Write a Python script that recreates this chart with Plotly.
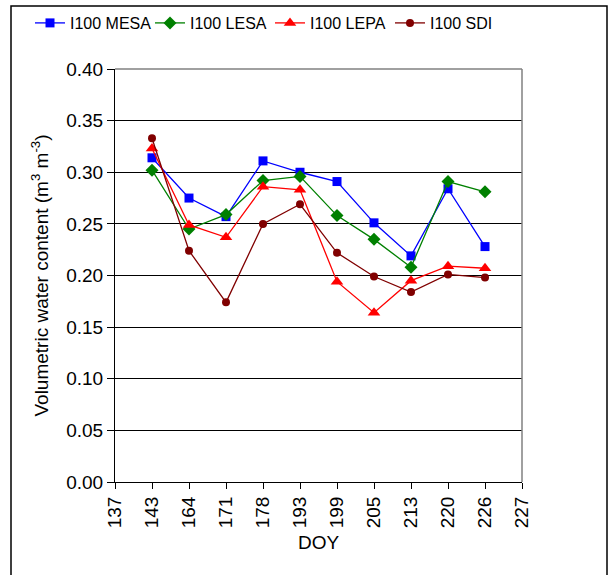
import plotly.graph_objects as go

doy_ticks = ["137", "143", "164", "171", "178", "193", "199", "205", "213", "220", "226", "227"]
doy = ["143", "164", "171", "178", "193", "199", "205", "213", "220", "226"]

mesa = [0.314, 0.275, 0.257, 0.311, 0.300, 0.291, 0.251, 0.219, 0.284, 0.228]
lesa = [0.302, 0.245, 0.259, 0.292, 0.296, 0.258, 0.235, 0.208, 0.291, 0.281]
lepa = [0.323, 0.249, 0.237, 0.286, 0.283, 0.194, 0.164, 0.195, 0.209, 0.207]
sdi = [0.333, 0.224, 0.174, 0.250, 0.269, 0.222, 0.199, 0.184, 0.201, 0.198]

series = [
    ("I100 MESA", mesa, "#0000FF", "square", 9),
    ("I100 LESA", lesa, "#008000", "diamond", 10),
    ("I100 LEPA", lepa, "#FF0000", "triangle-up", 11),
    ("I100 SDI", sdi, "#800000", "circle", 8),
]

fig = go.Figure()
for name, vals, col, sym, sz in series:
    fig.add_trace(go.Scatter(
        x=doy, y=vals, name=name, mode="lines+markers",
        line=dict(color=col, width=1.3),
        marker=dict(symbol=sym, size=sz, color=col),
    ))

font_family = "Liberation Sans, Arial, sans-serif"

fig.update_layout(
    width=611, height=575,
    margin=dict(l=115, r=89, t=69, b=93, autoexpand=False),
    paper_bgcolor="white", plot_bgcolor="white",
    font=dict(family=font_family, size=19, color="black"),
    showlegend=True,
    legend=dict(
        orientation="h", xref="paper", yref="paper",
        x=(30 - 115) / 407, y=(482 - 6) / 413, xanchor="left", yanchor="top",
        font=dict(size=16), entrywidth=75, entrywidthmode="pixels",
        itemwidth=30, bgcolor="rgba(0,0,0,0)", tracegroupgap=0,
    ),
    xaxis=dict(
        type="category", categoryorder="array", categoryarray=doy_ticks,
        tickvals=doy_ticks, ticktext=doy_ticks,
        range=[0, len(doy_ticks) - 1],
        showgrid=False, showline=True, linecolor="black", linewidth=1,
        ticks="outside", ticklen=6, tickcolor="black", tickangle=-90,
        tickfont=dict(size=19),
        title=dict(text="DOY", font=dict(size=19), standoff=8),
        zeroline=False,
    ),
    yaxis=dict(
        range=[0, 0.40], tickvals=[0, 0.05, 0.10, 0.15, 0.20, 0.25, 0.30, 0.35, 0.40],
        tickformat=".2f", showgrid=True, gridcolor="black", gridwidth=1,
        showline=True, linecolor="black", linewidth=1,
        ticks="outside", ticklen=7, tickcolor="black",
        tickfont=dict(size=19),
        title=dict(text="Volumetric water content (m<sup>3</sup> m<sup>-3</sup>)",
                   font=dict(size=19), standoff=12),
        zeroline=False,
    ),
)

# plot-area border (top and right, gray)
fig.add_shape(type="line", xref="paper", yref="paper", x0=0, x1=1, y0=1, y1=1,
              line=dict(color="#808080", width=1.5), layer="above")
fig.add_shape(type="line", xref="paper", yref="paper", x0=1, x1=1, y0=0, y1=1,
              line=dict(color="#808080", width=1.5), layer="above")

# outer chart frame
fig.add_shape(type="rect", xref="paper", yref="paper",
              x0=(11 - 115) / 407, x1=(607 - 115) / 407,
              y0=(482 - 590) / 413, y1=(482 - 6) / 413,
              line=dict(color="black", width=1.5), fillcolor="rgba(0,0,0,0)", layer="below")

fig.write_html("out.html")
